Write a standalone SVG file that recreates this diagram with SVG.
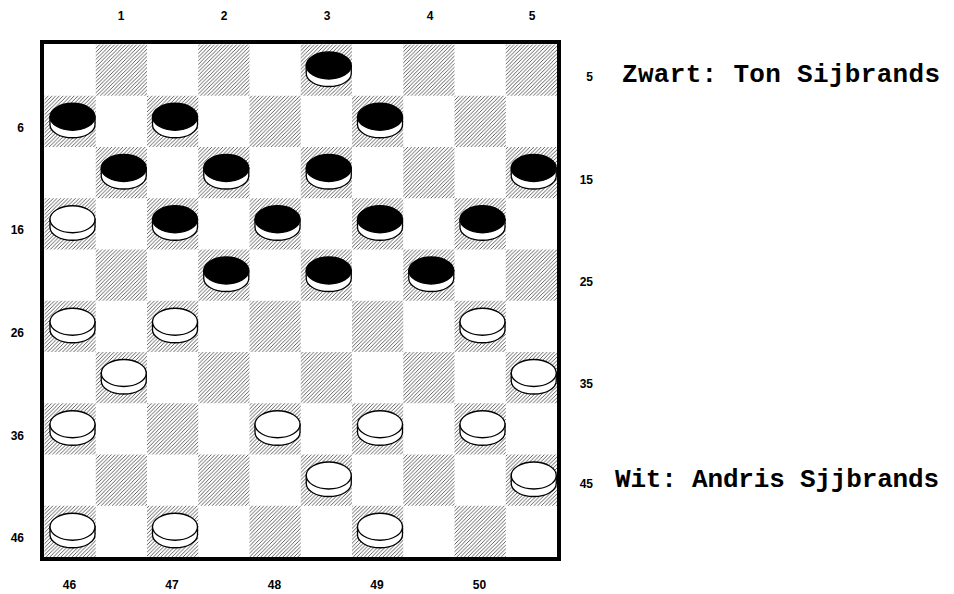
<svg xmlns="http://www.w3.org/2000/svg" xmlns:xlink="http://www.w3.org/1999/xlink" width="954" height="594" viewBox="0 0 954 594">
<style>
.lbl{font-family:"Liberation Sans",Arial,sans-serif;font-weight:bold;font-size:12px;fill:#000}
.name{font-family:"Liberation Mono","Courier New",monospace;font-weight:bold;font-size:26px;fill:#000}
.dk{fill:url(#hatch)}
.rim{fill:#fff;stroke:#000;stroke-width:1.3}
</style>
<defs>
<pattern id="hatch" patternUnits="userSpaceOnUse" width="3.7" height="3.7">
<path d="M-1,1 L1,-1 M0,3.7 L3.7,0 M2.7,4.7 L4.7,2.7" stroke="#444" stroke-width="0.85"/>
</pattern>
<g id="bp">
<path class="rim" d="M-22.5,-4 V4 A22.5,13 0 0 0 22.5,4 V-4 Z"/>
<ellipse cx="0" cy="-4" rx="22.5" ry="13.5" fill="#000" stroke="#000" stroke-width="1.3"/>
</g>
<g id="wp">
<path class="rim" d="M-22.5,-4 V4 A22.5,13 0 0 0 22.5,4 V-4 Z"/>
<ellipse cx="0" cy="-4" rx="22.5" ry="13.5" fill="#fff" stroke="#000" stroke-width="1.3"/>
</g>
</defs>
<rect width="954" height="594" fill="#fff"/>
<g id="board">
<rect x="42" y="42" width="517" height="517" fill="#fff" stroke="#000" stroke-width="4"/>
<g id="dark-squares">
<rect class="dk" x="95.75" y="44.5" width="51.25" height="51.25"/><rect class="dk" x="198.25" y="44.5" width="51.25" height="51.25"/><rect class="dk" x="300.75" y="44.5" width="51.25" height="51.25"/><rect class="dk" x="403.25" y="44.5" width="51.25" height="51.25"/><rect class="dk" x="505.75" y="44.5" width="51.25" height="51.25"/>
<rect class="dk" x="44.5" y="95.75" width="51.25" height="51.25"/><rect class="dk" x="147" y="95.75" width="51.25" height="51.25"/><rect class="dk" x="249.5" y="95.75" width="51.25" height="51.25"/><rect class="dk" x="352" y="95.75" width="51.25" height="51.25"/><rect class="dk" x="454.5" y="95.75" width="51.25" height="51.25"/>
<rect class="dk" x="95.75" y="147" width="51.25" height="51.25"/><rect class="dk" x="198.25" y="147" width="51.25" height="51.25"/><rect class="dk" x="300.75" y="147" width="51.25" height="51.25"/><rect class="dk" x="403.25" y="147" width="51.25" height="51.25"/><rect class="dk" x="505.75" y="147" width="51.25" height="51.25"/>
<rect class="dk" x="44.5" y="198.25" width="51.25" height="51.25"/><rect class="dk" x="147" y="198.25" width="51.25" height="51.25"/><rect class="dk" x="249.5" y="198.25" width="51.25" height="51.25"/><rect class="dk" x="352" y="198.25" width="51.25" height="51.25"/><rect class="dk" x="454.5" y="198.25" width="51.25" height="51.25"/>
<rect class="dk" x="95.75" y="249.5" width="51.25" height="51.25"/><rect class="dk" x="198.25" y="249.5" width="51.25" height="51.25"/><rect class="dk" x="300.75" y="249.5" width="51.25" height="51.25"/><rect class="dk" x="403.25" y="249.5" width="51.25" height="51.25"/><rect class="dk" x="505.75" y="249.5" width="51.25" height="51.25"/>
<rect class="dk" x="44.5" y="300.75" width="51.25" height="51.25"/><rect class="dk" x="147" y="300.75" width="51.25" height="51.25"/><rect class="dk" x="249.5" y="300.75" width="51.25" height="51.25"/><rect class="dk" x="352" y="300.75" width="51.25" height="51.25"/><rect class="dk" x="454.5" y="300.75" width="51.25" height="51.25"/>
<rect class="dk" x="95.75" y="352" width="51.25" height="51.25"/><rect class="dk" x="198.25" y="352" width="51.25" height="51.25"/><rect class="dk" x="300.75" y="352" width="51.25" height="51.25"/><rect class="dk" x="403.25" y="352" width="51.25" height="51.25"/><rect class="dk" x="505.75" y="352" width="51.25" height="51.25"/>
<rect class="dk" x="44.5" y="403.25" width="51.25" height="51.25"/><rect class="dk" x="147" y="403.25" width="51.25" height="51.25"/><rect class="dk" x="249.5" y="403.25" width="51.25" height="51.25"/><rect class="dk" x="352" y="403.25" width="51.25" height="51.25"/><rect class="dk" x="454.5" y="403.25" width="51.25" height="51.25"/>
<rect class="dk" x="95.75" y="454.5" width="51.25" height="51.25"/><rect class="dk" x="198.25" y="454.5" width="51.25" height="51.25"/><rect class="dk" x="300.75" y="454.5" width="51.25" height="51.25"/><rect class="dk" x="403.25" y="454.5" width="51.25" height="51.25"/><rect class="dk" x="505.75" y="454.5" width="51.25" height="51.25"/>
<rect class="dk" x="44.5" y="505.75" width="51.25" height="51.25"/><rect class="dk" x="147" y="505.75" width="51.25" height="51.25"/><rect class="dk" x="249.5" y="505.75" width="51.25" height="51.25"/><rect class="dk" x="352" y="505.75" width="51.25" height="51.25"/><rect class="dk" x="454.5" y="505.75" width="51.25" height="51.25"/>
</g>
</g>
<g id="black-pieces">
<use xlink:href="#bp" x="328.75" y="69.5"/>
<use xlink:href="#bp" x="72.5" y="120.75"/><use xlink:href="#bp" x="175" y="120.75"/><use xlink:href="#bp" x="380" y="120.75"/>
<use xlink:href="#bp" x="123.75" y="172"/><use xlink:href="#bp" x="226.25" y="172"/><use xlink:href="#bp" x="328.75" y="172"/><use xlink:href="#bp" x="533.75" y="172"/>
<use xlink:href="#bp" x="175" y="223.25"/><use xlink:href="#bp" x="277.5" y="223.25"/><use xlink:href="#bp" x="380" y="223.25"/><use xlink:href="#bp" x="482.5" y="223.25"/>
<use xlink:href="#bp" x="226.25" y="274.5"/><use xlink:href="#bp" x="328.75" y="274.5"/><use xlink:href="#bp" x="431.25" y="274.5"/>
</g>
<g id="white-pieces">
<use xlink:href="#wp" x="72.5" y="223.25"/>
<use xlink:href="#wp" x="72.5" y="325.75"/><use xlink:href="#wp" x="175" y="325.75"/><use xlink:href="#wp" x="482.5" y="325.75"/>
<use xlink:href="#wp" x="123.75" y="377"/><use xlink:href="#wp" x="533.75" y="377"/>
<use xlink:href="#wp" x="72.5" y="428.25"/><use xlink:href="#wp" x="277.5" y="428.25"/><use xlink:href="#wp" x="380" y="428.25"/><use xlink:href="#wp" x="482.5" y="428.25"/>
<use xlink:href="#wp" x="328.75" y="479.5"/><use xlink:href="#wp" x="533.75" y="479.5"/>
<use xlink:href="#wp" x="72.5" y="530.75"/><use xlink:href="#wp" x="175" y="530.75"/><use xlink:href="#wp" x="380" y="530.75"/>
</g>
<g id="top-labels" class="lbl" text-anchor="middle">
<text x="121" y="20">1</text><text x="224" y="20">2</text><text x="327" y="20">3</text><text x="430" y="20">4</text><text x="532" y="20">5</text>
</g>
<g id="left-labels" class="lbl" text-anchor="end">
<text x="24" y="132">6</text><text x="24" y="234">16</text><text x="24" y="337">26</text><text x="24" y="440">36</text><text x="24" y="542">46</text>
</g>
<g id="right-labels" class="lbl" text-anchor="end">
<text x="593" y="81">5</text><text x="593" y="184">15</text><text x="593" y="286">25</text><text x="593" y="388">35</text><text x="593" y="488">45</text>
</g>
<g id="bottom-labels" class="lbl" text-anchor="middle">
<text x="69.5" y="589">46</text><text x="172" y="589">47</text><text x="274.5" y="589">48</text><text x="377" y="589">49</text><text x="479.5" y="589">50</text>
</g>
<g id="players">
<text class="name" x="622" y="82" textLength="318" lengthAdjust="spacing">Zwart: Ton Sijbrands</text>
<text class="name" x="615" y="487" textLength="324" lengthAdjust="spacing">Wit: Andris Sjjbrands</text>
</g>
</svg>
